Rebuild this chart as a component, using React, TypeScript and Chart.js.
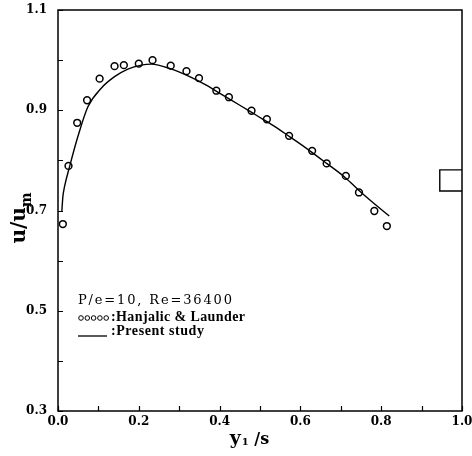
import React, { useEffect, useRef } from "react";
import { Chart, registerables } from "chart.js";

Chart.register(...registerables);

// Hanjalic & Launder measurements
const hlX = [0.012, 0.026, 0.0475, 0.072, 0.103, 0.14, 0.163, 0.2, 0.234, 0.279, 0.318, 0.349, 0.392, 0.423, 0.479, 0.517, 0.572, 0.629, 0.665, 0.7125, 0.745, 0.783, 0.814];
const hlY = [0.673, 0.789, 0.875, 0.92, 0.963, 0.988, 0.99, 0.993, 1.0, 0.989, 0.978, 0.964, 0.939, 0.926, 0.899, 0.882, 0.849, 0.819, 0.794, 0.769, 0.736, 0.699, 0.669];

// Present study curve
const psX = [0.0094, 0.012, 0.016, 0.0285, 0.049, 0.074, 0.107, 0.14, 0.173, 0.206, 0.231, 0.281, 0.326, 0.367, 0.408, 0.45, 0.491, 0.532, 0.574, 0.615, 0.665, 0.712, 0.745, 0.772, 0.82];
const psY = [0.697, 0.727, 0.747, 0.787, 0.847, 0.907, 0.944, 0.967, 0.982, 0.99, 0.992, 0.982, 0.967, 0.95, 0.93, 0.91, 0.89, 0.87, 0.847, 0.824, 0.794, 0.765, 0.74, 0.721, 0.689];

// small box mark at right edge
const boxX = [1.0, 0.945, 0.945, 1.0];
const boxY = [0.781, 0.781, 0.739, 0.739];

// ticks
const xTickValues = [0, 0.1, 0.2, 0.3, 0.4, 0.5, 0.6, 0.7, 0.8, 0.9, 1.0];
const xTickLabels = ["0.0", "", "0.2", "", "0.4", "", "0.6", "", "0.8", "", "1.0"];
const yTickValues = [0.3, 0.4, 0.5, 0.6, 0.7, 0.8, 0.9, 1.0, 1.1];
const yTickLabels = ["0.3", "", "0.5", "", "0.7", "", "0.9", "", "1.1"];

const legendTitle = "P/e=10, Re=36400";
const legendSeries = [":Hanjalic & Launder", ":Present study"];

const SERIF = '"DejaVu Serif", "Liberation Serif", serif';
const TIMES = '"Liberation Serif", "DejaVu Serif", serif';

const decor = {
  id: "decor",
  afterDraw(chart: any) {
    const { ctx, chartArea, scales } = chart;
    const { left, top, right, bottom } = chartArea;
    const xs = scales.x;
    const ys = scales.y;
    ctx.save();
    ctx.strokeStyle = "#000";
    ctx.fillStyle = "#000";
    ctx.lineWidth = 1.5;
    ctx.strokeRect(left, top, right - left, bottom - top);

    ctx.lineWidth = 1.2;
    ctx.beginPath();
    xTickValues.forEach((v) => {
      const px = Math.round(xs.getPixelForValue(v)) + 0.5;
      ctx.moveTo(px, bottom);
      ctx.lineTo(px, bottom - 5);
    });
    yTickValues.forEach((v) => {
      const py = Math.round(ys.getPixelForValue(v)) + 0.5;
      ctx.moveTo(left, py);
      ctx.lineTo(left + 5, py);
    });
    ctx.stroke();

    // tick labels
    ctx.font = "bold 12px " + SERIF;
    ctx.textAlign = "center";
    ctx.textBaseline = "middle";
    xTickValues.forEach((v, i) => {
      if (!xTickLabels[i]) return;
      ctx.fillText(xTickLabels[i], xs.getPixelForValue(v), bottom + 11);
    });
    ctx.textAlign = "right";
    yTickValues.forEach((v, i) => {
      if (!yTickLabels[i]) return;
      ctx.fillText(yTickLabels[i], left - 11, ys.getPixelForValue(v));
    });

    const fit = (text: string, x: number, y: number, w: number) => {
      (ctx as any).letterSpacing = "0px";
      const m = ctx.measureText(text).width;
      const ls = (w - m) / Math.max(1, text.length - 1);
      (ctx as any).letterSpacing = ls.toFixed(2) + "px";
      ctx.fillText(text, x, y);
      (ctx as any).letterSpacing = "0px";
    };

    // legend block
    ctx.textAlign = "left";
    ctx.textBaseline = "alphabetic";
    const lx = left + 20;
    ctx.font = "13px " + SERIF;
    fit(legendTitle, lx, top + 294, 154);
    ctx.font = "bold 14px " + TIMES;
    ctx.lineWidth = 1;
    for (let i = 0; i < 5; i++) {
      ctx.beginPath();
      ctx.arc(lx + 3 + i * 6.3, top + 308, 2.3, 0, Math.PI * 2);
      ctx.stroke();
    }
    fit(legendSeries[0], lx + 33, top + 311, 134);
    ctx.lineWidth = 1.3;
    ctx.beginPath();
    ctx.moveTo(lx, top + 326);
    ctx.lineTo(lx + 29, top + 326);
    ctx.stroke();
    fit(legendSeries[1], lx + 33, top + 325, 93);

    // y axis title u/u_m (rotated)
    ctx.save();
    ctx.translate(25, 218);
    ctx.rotate(-Math.PI / 2);
    ctx.font = "bold 20px " + SERIF;
    const main = "u/u";
    const mw = ctx.measureText(main).width;
    ctx.font = "bold 14px " + SERIF;
    const sw = ctx.measureText("m").width;
    const tot = mw + sw;
    ctx.font = "bold 20px " + SERIF;
    ctx.fillText(main, -tot / 2, 0);
    ctx.font = "bold 14px " + SERIF;
    ctx.fillText("m", -tot / 2 + mw, 6);
    ctx.restore();

    // x axis title y1 /s
    ctx.font = "bold 19px " + SERIF;
    const yw = ctx.measureText("y").width;
    ctx.font = "bold 10px " + SERIF;
    const ow = ctx.measureText("1").width;
    ctx.font = "bold 16px " + SERIF;
    const rest = " /s";
    const rw = ctx.measureText(rest).width;
    const total = yw + ow + rw;
    const sx = 249 - total / 2;
    const base = 444;
    ctx.font = "bold 19px " + SERIF;
    ctx.fillText("y", sx, base);
    ctx.font = "bold 10px " + SERIF;
    ctx.fillText("1", sx + yw + 1, base + 1);
    ctx.font = "bold 16px " + SERIF;
    ctx.fillText(rest, sx + yw + ow + 1, base);

    ctx.restore();
  },
};

export default function App() {
  const ref = useRef<HTMLCanvasElement | null>(null);
  useEffect(() => {
    if (!ref.current) return;
    const chart = new Chart(ref.current, {
      type: "scatter",
      data: {
        datasets: [
          {
            label: "Hanjalic & Launder",
            data: hlX.map((x, i) => ({ x, y: hlY[i] })),
            showLine: false,
            pointStyle: "circle",
            pointRadius: 3.4,
            pointBorderWidth: 1.5,
            borderColor: "#000",
            backgroundColor: "rgba(255,255,255,0)",
          },
          {
            label: "Present study",
            data: psX.map((x, i) => ({ x, y: psY[i] })),
            showLine: true,
            pointRadius: 0,
            borderColor: "#000",
            borderWidth: 1.4,
            tension: 0.4,
            cubicInterpolationMode: "monotone",
          },
          {
            label: "box",
            data: boxX.map((x, i) => ({ x, y: boxY[i] })),
            showLine: true,
            pointRadius: 0,
            borderColor: "#000",
            borderWidth: 1.4,
            tension: 0,
            clip: false as any,
          },
        ],
      },
      options: {
        responsive: false,
        animation: false,
        devicePixelRatio: 1,
        layout: { padding: { top: 10, right: 10, left: 0, bottom: 0 } },
        plugins: { legend: { display: false }, tooltip: { enabled: false } },
        scales: {
          x: {
            type: "linear",
            min: 0,
            max: 1,
            afterFit: (s: any) => {
              s.height = 45;
            },
            ticks: { display: false },
            grid: { display: false, drawTicks: false },
            border: { display: false },
          },
          y: {
            type: "linear",
            min: 0.3,
            max: 1.1,
            afterFit: (s: any) => {
              s.width = 58;
            },
            ticks: { display: false },
            grid: { display: false, drawTicks: false },
            border: { display: false },
          },
        },
      },
      plugins: [decor],
    });
    return () => chart.destroy();
  }, []);
  return (
    <div style={{ position: "fixed", left: 0, top: 0, width: 472, height: 456, background: "#fff" }}>
      <canvas ref={ref} width={472} height={456} style={{ display: "block" }} />
    </div>
  );
}
